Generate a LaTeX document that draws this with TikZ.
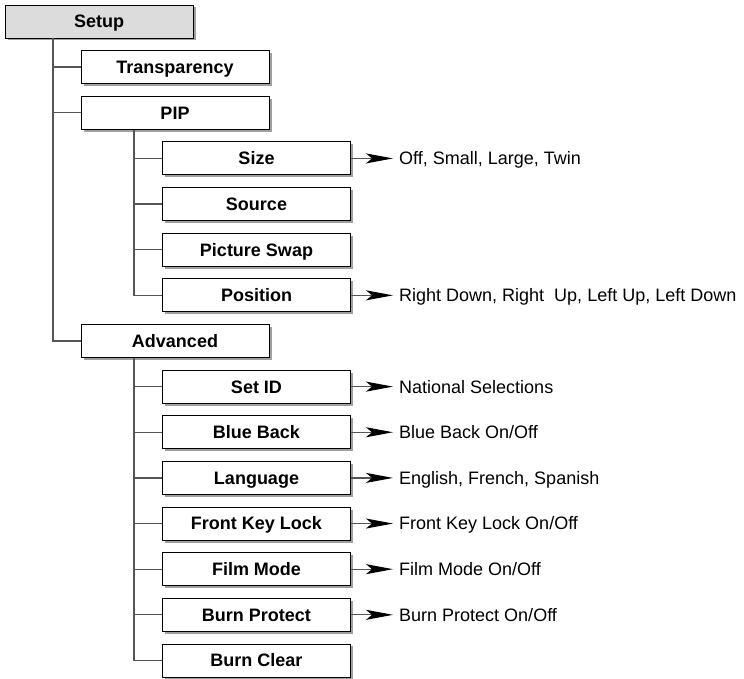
\documentclass[tikz,border=0pt]{standalone}
\usepackage{fontspec}
\setmainfont{Liberation Sans}
\usepackage{tikz}
\usetikzlibrary{arrows.meta,shadows}
\usepackage{xcolor}
\definecolor{menugray}{HTML}{DCDCDC}
\definecolor{shadegray}{HTML}{A0A0A0}
\definecolor{linkgray}{HTML}{555555}

\begin{document}
\begin{tikzpicture}[x=1pt, y=-1pt,
  box/.style={draw, fill=white, line width=0.9pt, minimum width=188pt, minimum height=33pt,
    text height=12.9pt, text depth=0pt, font=\fontsize{18}{20}\selectfont\bfseries,
    drop shadow={shadow xshift=2.5pt, shadow yshift=-2.5pt, fill=shadegray, opacity=1}},
  link/.style={linkgray, line width=1.2pt},
  arr/.style={linkgray, line width=1.2pt, -{Stealth[length=27pt, width=10pt, inset=6pt, black]}},
  opt/.style={anchor=west, inner xsep=6pt, text height=12.9pt, text depth=0pt,
    font=\fontsize{18}{20}\selectfont}]
\useasboundingbox (0,0) rectangle (744,679);
\node[box, fill=menugray] (setup) at (99,21.5) {Setup};
\node[box] (transp) at (175,67.1) {Transparency};
\node[box] (pip) at (175,112.8) {PIP};
\node[box] (adv) at (175,341) {Advanced};
\foreach \n/\t/\i in {size/Size/3, source/Source/4, swap/Picture Swap/5, pos/Position/6,
    setid/Set ID/8, blue/Blue Back/9, lang/Language/10, lock/Front Key Lock/11,
    film/Film Mode/12, protect/Burn Protect/13, clear/Burn Clear/14}
  \node[box] (\n) at (256.5, {21.5+\i*45.64}) {\t};
\coordinate (trunk) at (53,0);
\coordinate (subtrunk) at (134,0);
\draw[link] (trunk |- setup.south) |- (adv.west);
\draw[link] (trunk |- transp) -- (transp.west);
\draw[link] (trunk |- pip) -- (pip.west);
\draw[link] (subtrunk |- pip.south) |- (pos.west);
\foreach \n in {size,source,swap}
  \draw[link] (subtrunk |- \n) -- (\n.west);
\draw[link] (subtrunk |- adv.south) |- (clear.west);
\foreach \n in {setid,blue,lang,lock,film,protect}
  \draw[link] (subtrunk |- \n) -- (\n.west);
\foreach \n/\t in {size/{Off, Small, Large, Twin}, pos/{Right Down, Right\ \ Up, Left Up, Left Down},
    setid/{National Selections}, blue/{Blue Back On/Off}, lang/{English, French, Spanish},
    lock/{Front Key Lock On/Off}, film/{Film Mode On/Off}, protect/{Burn Protect On/Off}} {
  \node[opt] (\n opt) at (393, 0 |- \n) {\t};
  \draw[arr] (\n.east) -- (\n opt.west);
}
\end{tikzpicture}
\end{document}
